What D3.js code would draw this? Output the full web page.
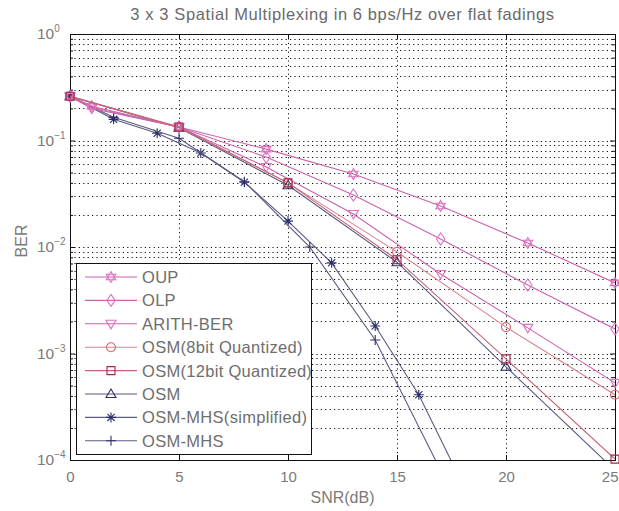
<!DOCTYPE html>
<html>
<head>
<meta charset="utf-8">
<script src="https://cdn.jsdelivr.net/npm/d3@7"></script>
<style>
  body { margin: 0; background: #fff; }
  text { font-family: "Liberation Sans", "DejaVu Sans", sans-serif; }
</style>
</head>
<body>
<div id="chart"></div>
<script>
// x positions (SNR, dB) used by each group of curves
var snrEvery4 = [0, 1, 5, 9, 13, 17, 21, 25];
var snrEvery5 = [0, 5, 10, 15, 20, 25];
var snrEvery2 = [0, 2, 4, 6, 8, 10, 12, 14, 16, 18];
var snrEvery3 = [0, 2, 5, 8, 11, 14, 17];

// BER values
var berOUP    = [0.26, 0.21, 0.134, 0.083, 0.0484, 0.0243, 0.0109, 0.0046];
var berOLP    = [0.26, 0.205, 0.134, 0.070, 0.0308, 0.0119, 0.0044, 0.0017];
var berArith  = [0.26, 0.20, 0.134, 0.0564, 0.0204, 0.00558, 0.00174, 0.00053];
var berOSM8   = [0.26, 0.134, 0.040, 0.0090, 0.00177, 0.00041];
var berOSM12  = [0.26, 0.134, 0.040, 0.0076, 0.00089, 0.000102];
var berOSM    = [0.26, 0.132, 0.038, 0.0072, 0.00075, 0.00008];
var berMHSs   = [0.26, 0.158, 0.117, 0.0763, 0.0406, 0.0175, 0.0071, 0.00181, 0.00041, 0.00006];
var berMHS    = [0.26, 0.165, 0.105, 0.041, 0.010, 0.00134, 0.00008];

var seriesNames = ["OUP", "OLP", "ARITH-BER", "OSM(8bit Quantized)", "OSM(12bit Quantized)",
                   "OSM", "OSM-MHS(simplified)", "OSM-MHS"];
var xTicks = [0, 5, 10, 15, 20, 25];
var yTickExps = [0, -1, -2, -3, -4];
var titleText = "3 x 3 Spatial Multiplexing in 6 bps/Hz over flat fadings";

var pink = {line: "#cc62ae", mark: "#dc72c0"};
var rose = {line: "#d9808e", mark: "#db6676"};
var wine = {line: "#c46474", mark: "#a3284a"};
var navy = {line: "#5b5b80", mark: "#2e2e6c"};

var series = [
    {name: seriesNames[0], x: snrEvery4, y: berOUP,   shape: "hexagram", c: pink},
    {name: seriesNames[1], x: snrEvery4, y: berOLP,   shape: "diamond",  c: pink},
    {name: seriesNames[2], x: snrEvery4, y: berArith, shape: "tridown",  c: pink},
    {name: seriesNames[3], x: snrEvery5, y: berOSM8,  shape: "circle",   c: rose},
    {name: seriesNames[4], x: snrEvery5, y: berOSM12, shape: "square",   c: wine},
    {name: seriesNames[5], x: snrEvery5, y: berOSM,   shape: "triup",    c: navy},
    {name: seriesNames[6], x: snrEvery2, y: berMHSs,  shape: "asterisk", c: navy},
    {name: seriesNames[7], x: snrEvery3, y: berMHS,   shape: "plus",     c: navy}
];

var W = 619, H = 511;
var plot = {left: 70, right: 615, top: 34, bottom: 460};

var x = d3.scaleLinear().domain([0, 25]).range([plot.left, plot.right]);
var y = d3.scaleLog().domain([1e-4, 1]).range([plot.bottom, plot.top]);

function markerPath(shape) {
    switch (shape) {
        case "hexagram":
            var r = 5.5, s = [];
            for (var k = 0; k < 2; k++) {
                var pts = [];
                for (var i = 0; i < 3; i++) {
                    var a = (k * 60 + i * 120 - 90) * Math.PI / 180;
                    pts.push([r * Math.cos(a), r * Math.sin(a)]);
                }
                s.push("M" + pts.join("L") + "Z");
            }
            return s.join("");
        case "diamond":  return "M0,-6L4.2,0L0,6L-4.2,0Z";
        case "tridown":  return "M-5,-3.5L5,-3.5L0,5Z";
        case "triup":    return "M-5,3.5L5,3.5L0,-5Z";
        case "square":   return "M-4,-4L4,-4L4,4L-4,4Z";
        case "circle":   return "M4.5,0A4.5,4.5 0 1,1 -4.5,0A4.5,4.5 0 1,1 4.5,0Z";
        case "plus":     return "M-5,0L5,0M0,-5L0,5";
        case "asterisk": return "M-5,0L5,0M0,-5L0,5M-3.6,-3.6L3.6,3.6M-3.6,3.6L3.6,-3.6";
    }
    return "";
}

var svg = d3.select("#chart").append("svg")
    .attr("width", W)
    .attr("height", H)
    .style("background", "#fff");

var defs = svg.append("defs");
defs.append("clipPath").attr("id", "plotClip")
  .append("rect")
    .attr("x", plot.left).attr("y", plot.top)
    .attr("width", plot.right - plot.left).attr("height", plot.bottom - plot.top);
defs.append("clipPath").attr("id", "markClip")
  .append("rect")
    .attr("x", plot.left - 7).attr("y", plot.top - 7)
    .attr("width", plot.right - plot.left + 14).attr("height", plot.bottom - plot.top + 14);

// grid: every decade plus the 2..9 minor lines, and vertical lines at x ticks
var yGrid = [];
yTickExps.forEach(function(e) {
    if (e < 0) {
        for (var m = 1; m <= 9; m++) yGrid.push(m * Math.pow(10, e));
    }
});

var grid = svg.append("g").attr("class", "grid")
    .attr("stroke", "#111")
    .attr("stroke-width", 1)
    .attr("stroke-dasharray", "1.2,3.2");

grid.selectAll("line.h")
    .data(yGrid)
    .enter().append("line")
    .attr("class", "h")
    .attr("x1", plot.left).attr("x2", plot.right)
    .attr("y1", function(d) { return Math.round(y(d)) + 0.5; })
    .attr("y2", function(d) { return Math.round(y(d)) + 0.5; });

grid.selectAll("line.v")
    .data(xTicks.slice(1, -1))
    .enter().append("line")
    .attr("class", "v")
    .attr("y1", plot.top).attr("y2", plot.bottom)
    .attr("x1", function(d) { return Math.round(x(d)) + 0.5; })
    .attr("x2", function(d) { return Math.round(x(d)) + 0.5; });

// axes: bottom / left with inward ticks, mirrored on top / right
var xAxisB = d3.axisBottom(x).tickValues(xTicks).tickSize(-5).tickPadding(11).tickFormat(d3.format("d"));
var xAxisT = d3.axisTop(x).tickValues(xTicks).tickSize(-5).tickFormat("");
var yMinor = yGrid.filter(function(d) { return Math.abs(Math.log10(d) - Math.round(Math.log10(d))) > 1e-6; });
var yMajor = yTickExps.map(function(e) { return Math.pow(10, e); });
var yAxisL = d3.axisLeft(y).tickValues(yMajor).tickSize(-5).tickFormat("");
var yAxisR = d3.axisRight(y).tickValues(yMajor).tickSize(-5).tickFormat("");
var yMinL = d3.axisLeft(y).tickValues(yMinor).tickSize(-3).tickFormat("");
var yMinR = d3.axisRight(y).tickValues(yMinor).tickSize(-3).tickFormat("");

function styleAxis(g) {
    g.select(".domain").remove();
    g.selectAll(".tick line").attr("stroke", "#111");
    g.selectAll(".tick text").attr("fill", "#7a7a7a").attr("font-size", 15);
}

var xAxisG = svg.append("g").attr("transform", "translate(0," + plot.bottom + ")").call(xAxisB).call(styleAxis);
// last label sits on the window edge; keep it inside
xAxisG.selectAll(".tick text").filter(function(d) { return d === 25; })
    .attr("text-anchor", "end").attr("x", 619 - plot.right - 1);
svg.append("g").attr("transform", "translate(0," + plot.top + ")").call(xAxisT).call(styleAxis);
svg.append("g").attr("transform", "translate(" + plot.left + ",0)").call(yAxisL).call(styleAxis);
svg.append("g").attr("transform", "translate(" + plot.right + ",0)").call(yAxisR).call(styleAxis);
svg.append("g").attr("transform", "translate(" + plot.left + ",0)").call(yMinL).call(styleAxis);
svg.append("g").attr("transform", "translate(" + plot.right + ",0)").call(yMinR).call(styleAxis);

// y tick labels as 10^n
var yLab = svg.append("g").selectAll("text")
    .data(yTickExps)
    .enter().append("text")
    .attr("x", 37)
    .attr("y", function(d) { return y(Math.pow(10, d)) + 5; })
    .attr("fill", "#7a7a7a")
    .attr("font-size", 15.5)
    .text("10");
yLab.append("tspan")
    .attr("dy", -7)
    .attr("font-size", 10)
    .text(function(d) { return d === 0 ? "0" : "\u2212" + (-d); });

// box
svg.append("rect")
    .attr("x", plot.left + 0.5).attr("y", plot.top + 0.5)
    .attr("width", plot.right - plot.left).attr("height", plot.bottom - plot.top)
    .attr("fill", "none").attr("stroke", "#111").attr("stroke-width", 1);

// curves
var line = d3.line()
    .x(function(d) { return x(d[0]); })
    .y(function(d) { return y(d[1]); });

var drawOrder = [5, 6, 7, 0, 1, 2, 3, 4];

var curves = svg.append("g");
drawOrder.forEach(function(i) {
    var s = series[i];
    var pts = s.x.map(function(v, j) { return [v, s.y[j]]; });
    var g = curves.append("g");
    g.append("path")
        .attr("clip-path", "url(#plotClip)")
        .attr("d", line(pts))
        .attr("fill", "none")
        .attr("stroke", s.c.line)
        .attr("stroke-width", 1.1);
    g.append("g").attr("clip-path", "url(#markClip)")
      .selectAll("path")
        .data(pts.filter(function(d) { return d[1] >= 1e-4 * 0.97; }))
        .enter().append("path")
        .attr("transform", function(d) { return "translate(" + x(d[0]) + "," + y(d[1]) + ")"; })
        .attr("d", markerPath(s.shape))
        .attr("fill", "none")
        .attr("stroke", s.c.mark)
        .attr("stroke-width", 1.1);
});

// legend
var leg = {x: 76, y: 263, w: 235, h: 191, row: 23.4, first: 277};
defs.append("clipPath").attr("id", "legClip")
  .append("rect").attr("x", leg.x).attr("y", leg.y).attr("width", leg.w).attr("height", leg.h);

svg.append("rect")
    .attr("x", leg.x + 0.5).attr("y", leg.y + 0.5)
    .attr("width", leg.w).attr("height", leg.h)
    .attr("fill", "#fff").attr("stroke", "#111").attr("stroke-width", 1);

var legItems = svg.append("g").attr("clip-path", "url(#legClip)")
  .selectAll("g")
    .data(series)
    .enter().append("g")
    .attr("transform", function(d, i) { return "translate(0," + (leg.first + i * leg.row) + ")"; });

legItems.append("line")
    .attr("x1", 85).attr("x2", 137)
    .attr("stroke", function(d) { return d.c.line; })
    .attr("stroke-width", 1.1);
legItems.append("path")
    .attr("transform", "translate(111,0)")
    .attr("d", function(d) { return markerPath(d.shape); })
    .attr("fill", "none")
    .attr("stroke", function(d) { return d.c.mark; })
    .attr("stroke-width", 1.1);
legItems.append("text")
    .attr("x", 142).attr("y", 6)
    .attr("fill", "#6e6e6e")
    .attr("font-size", 16.5)
    .attr("letter-spacing", 0.3)
    .text(function(d) { return d.name; });

// title and axis labels
svg.append("text")
    .attr("x", (plot.left + plot.right) / 2).attr("y", 20)
    .attr("text-anchor", "middle")
    .attr("fill", "#6a6a6a")
    .attr("font-size", 16.5)
    .attr("letter-spacing", 0.6)
    .text(titleText);

svg.append("text")
    .attr("x", (plot.left + plot.right) / 2).attr("y", 503)
    .attr("text-anchor", "middle")
    .attr("fill", "#7a7a7a")
    .attr("font-size", 16)
    .text("SNR(dB)");

svg.append("text")
    .attr("transform", "translate(27,241) rotate(-90)")
    .attr("text-anchor", "middle")
    .attr("fill", "#7a7a7a")
    .attr("font-size", 16)
    .text("BER");
</script>
</body>
</html>
